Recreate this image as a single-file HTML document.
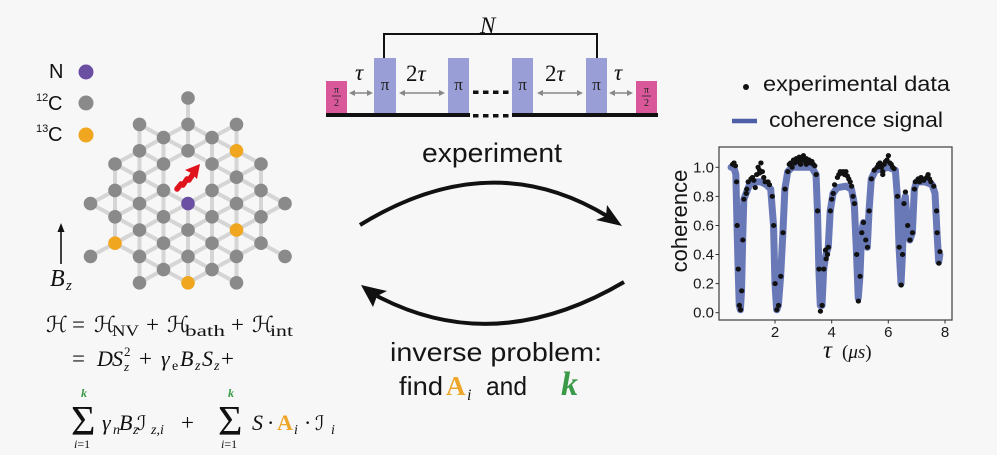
<!DOCTYPE html>
<html><head><meta charset="utf-8"><style>
html,body{margin:0;padding:0;background:#f7f7f7;}
svg{display:block;}
.sans{font-family:"Liberation Sans","DejaVu Sans",sans-serif;}
.serif{font-family:"Liberation Serif","DejaVu Serif",serif;}
.math{font-family:"DejaVu Serif","Liberation Serif",serif;}
</style></head><body>
<svg width="997" height="455" viewBox="0 0 997 455" xmlns="http://www.w3.org/2000/svg">
<rect x="0" y="0" width="997" height="455" fill="#f7f7f7"/>

<!-- ===== Legend left ===== -->
<text class="sans" x="49" y="78" font-size="20" fill="#111">N</text>
<circle cx="86" cy="72" r="7.5" fill="#6a4fa2"/>
<text class="sans" x="36" y="101" font-size="11" fill="#111">12</text>
<text class="sans" x="48" y="110" font-size="20" fill="#111">C</text>
<circle cx="86" cy="103" r="7.5" fill="#8a8a8a"/>
<text class="sans" x="36" y="132" font-size="11" fill="#111">13</text>
<text class="sans" x="48" y="141" font-size="20" fill="#111">C</text>
<circle cx="86" cy="135" r="7.5" fill="#f0a61e"/>

<!-- ===== Lattice bonds ===== -->
<path fill="none" stroke="#d5d5d5" stroke-width="4" stroke-linejoin="round" d="
M115 164V243.2 M139.5 124.4V282.8 M163.5 137.6V269.6 M188 98V150.8 M188 203.6V282.8 M212 137.6V269.6 M236.5 124.4V282.8 M261 164V243.2
M90.5 203.6L115 190.4 M90.5 203.6L115 216.8 M90.5 256.4L115 243.2
M139.5 150.8L115 164L139.5 177.2L115 190.4L139.5 203.6L115 216.8L139.5 230L115 243.2L139.5 256.4
M139.5 124.4L163.5 137.6L139.5 150.8L163.5 164L139.5 177.2L163.5 190.4L139.5 203.6L163.5 216.8L139.5 230L163.5 243.2L139.5 256.4L163.5 269.6L139.5 282.8
M188 124.4L163.5 137.6L188 150.8L163.5 164 M163.5 190.4L188 203.6L163.5 216.8L188 230L163.5 243.2L188 256.4L163.5 269.6L188 282.8
M188 124.4L212 137.6L188 150.8L212 164 M212 190.4L188 203.6L212 216.8L188 230L212 243.2L188 256.4L212 269.6L188 282.8
M236.5 124.4L212 137.6L236.5 150.8L212 164L236.5 177.2L212 190.4L236.5 203.6L212 216.8L236.5 230L212 243.2L236.5 256.4L212 269.6L236.5 282.8
M236.5 150.8L261 164L236.5 177.2L261 190.4L236.5 203.6L261 216.8L236.5 230L261 243.2L236.5 256.4
M261 190.4L285 203.6L261 216.8 M261 243.2L285 256.4"/>

<!-- ===== Lattice nodes ===== -->
<g fill="#8a8a8a">
<circle cx="90.5" cy="203.6" r="6.8"/><circle cx="90.5" cy="256.4" r="6.8"/>
<circle cx="115" cy="164" r="6.8"/><circle cx="115" cy="190.4" r="6.8"/><circle cx="115" cy="216.8" r="6.8"/>
<circle cx="139.5" cy="124.4" r="6.8"/><circle cx="139.5" cy="150.8" r="6.8"/><circle cx="139.5" cy="177.2" r="6.8"/><circle cx="139.5" cy="203.6" r="6.8"/><circle cx="139.5" cy="230" r="6.8"/><circle cx="139.5" cy="256.4" r="6.8"/><circle cx="139.5" cy="282.8" r="6.8"/>
<circle cx="163.5" cy="137.6" r="6.8"/><circle cx="163.5" cy="164" r="6.8"/><circle cx="163.5" cy="190.4" r="6.8"/><circle cx="163.5" cy="216.8" r="6.8"/><circle cx="163.5" cy="243.2" r="6.8"/><circle cx="163.5" cy="269.6" r="6.8"/>
<circle cx="188" cy="98" r="6.8"/><circle cx="188" cy="124.4" r="6.8"/><circle cx="188" cy="150.8" r="6.8"/><circle cx="188" cy="230" r="6.8"/><circle cx="188" cy="256.4" r="6.8"/>
<circle cx="212" cy="137.6" r="6.8"/><circle cx="212" cy="164" r="6.8"/><circle cx="212" cy="190.4" r="6.8"/><circle cx="212" cy="216.8" r="6.8"/><circle cx="212" cy="243.2" r="6.8"/><circle cx="212" cy="269.6" r="6.8"/>
<circle cx="236.5" cy="124.4" r="6.8"/><circle cx="236.5" cy="177.2" r="6.8"/><circle cx="236.5" cy="203.6" r="6.8"/><circle cx="236.5" cy="256.4" r="6.8"/><circle cx="236.5" cy="282.8" r="6.8"/>
<circle cx="261" cy="164" r="6.8"/><circle cx="261" cy="190.4" r="6.8"/><circle cx="261" cy="216.8" r="6.8"/><circle cx="261" cy="243.2" r="6.8"/>
<circle cx="285" cy="203.6" r="6.8"/><circle cx="285" cy="256.4" r="6.8"/>
</g>
<g fill="#f0a61e">
<circle cx="115" cy="243.2" r="6.8"/><circle cx="188" cy="282.8" r="6.8"/><circle cx="236.5" cy="150.8" r="6.8"/><circle cx="236.5" cy="230" r="6.8"/>
</g>
<circle cx="188" cy="203.6" r="6.8" fill="#6a4fa2"/>

<!-- red spin arrow -->
<path d="M177 189 L181 184 L183 185 L187 179 L189 180 L193 174" fill="none" stroke="#e0141c" stroke-width="5.5" stroke-linejoin="round" stroke-linecap="round"/>
<polygon points="200,164 197,179 191,173 185,170" fill="#e0141c"/>

<!-- Bz arrow -->
<line x1="61" y1="264" x2="61" y2="231" stroke="#111" stroke-width="1.6"/>
<polygon points="61,223 57.5,232 64.5,232" fill="#111"/>
<text class="serif" x="50" y="286" font-size="24" font-style="italic" fill="#111">B</text>
<text class="serif" x="66" y="290" font-size="15" font-style="italic" fill="#111">z</text>

<!-- ===== Formula ===== -->
<g fill="#111">
<!-- line 1 -->
<text class="math" x="46" y="332" font-size="22">ℋ</text>
<text class="serif" x="72" y="332" font-size="23">=</text>
<text class="math" x="94" y="332" font-size="22">ℋ</text>
<text class="serif" x="112" y="336" font-size="16" textLength="27" lengthAdjust="spacingAndGlyphs">NV</text>
<text class="serif" x="146" y="332" font-size="23">+</text>
<text class="math" x="167" y="332" font-size="22">ℋ</text>
<text class="serif" x="185" y="336" font-size="16" textLength="40" lengthAdjust="spacingAndGlyphs">bath</text>
<text class="serif" x="231" y="332" font-size="23">+</text>
<text class="math" x="252" y="332" font-size="22">ℋ</text>
<text class="serif" x="270" y="336" font-size="16" textLength="23" lengthAdjust="spacingAndGlyphs">int</text>
<!-- line 2 -->
<text class="serif" x="72" y="366" font-size="23">=</text>
<text class="serif" x="97" y="366" font-size="22" font-style="italic">D</text>
<text class="serif" x="112" y="366" font-size="22" font-style="italic">S</text>
<text class="serif" x="124" y="356" font-size="13">2</text>
<text class="serif" x="124" y="371" font-size="13" font-style="italic">z</text>
<text class="serif" x="139" y="366" font-size="23">+</text>
<text class="serif" x="161" y="366" font-size="22" font-style="italic">γ</text>
<text class="serif" x="172" y="370" font-size="14">e</text>
<text class="serif" x="180" y="366" font-size="22" font-style="italic">B</text>
<text class="serif" x="195" y="370" font-size="14" font-style="italic">z</text>
<text class="serif" x="202" y="366" font-size="22" font-style="italic">S</text>
<text class="serif" x="214" y="370" font-size="14" font-style="italic">z</text>
<text class="serif" x="221" y="366" font-size="23">+</text>
<!-- line 3 -->
<text class="serif" x="81" y="397" font-size="12" font-weight="bold" font-style="italic" fill="#3b9a48">k</text>
<text class="serif" x="71" y="435" font-size="42">Σ</text>
<text class="serif" x="74" y="448" font-size="12" font-style="italic">i<tspan font-style="normal">=1</tspan></text>
<text class="serif" x="102" y="430" font-size="22" font-style="italic">γ</text>
<text class="serif" x="113" y="434" font-size="14" font-style="italic">n</text>
<text class="serif" x="119" y="430" font-size="22" font-style="italic">B</text>
<text class="serif" x="133" y="434" font-size="14" font-style="italic">z</text>
<text class="math" x="137" y="430" font-size="20">ℐ</text>
<text class="serif" x="151" y="434" font-size="14" font-style="italic">z,i</text>
<text class="serif" x="181" y="430" font-size="23">+</text>
<text class="serif" x="228" y="397" font-size="12" font-weight="bold" font-style="italic" fill="#3b9a48">k</text>
<text class="serif" x="218" y="435" font-size="42">Σ</text>
<text class="serif" x="221" y="448" font-size="12" font-style="italic">i<tspan font-style="normal">=1</tspan></text>
<text class="serif" x="252" y="430" font-size="22" font-style="italic">S</text>
<text class="serif" x="267" y="430" font-size="22">·</text>
<text class="serif" x="277" y="430" font-size="22" font-weight="bold" fill="#eda628">A</text>
<text class="serif" x="294" y="434" font-size="14" font-style="italic">i</text>
<text class="serif" x="304" y="430" font-size="22">·</text>
<text class="math" x="315" y="430" font-size="20">ℐ</text>
<text class="serif" x="331" y="434" font-size="14" font-style="italic">i</text>
</g>

<!-- ===== Pulse sequence ===== -->
<text class="serif" x="480" y="33" font-size="23" font-style="italic" fill="#111">N</text>
<path d="M384 58V34H597V58" fill="none" stroke="#111" stroke-width="2"/>
<rect x="326" y="81" width="21" height="32" fill="#d9589a"/>
<rect x="636" y="81" width="21" height="32" fill="#d9589a"/>
<g class="serif" font-size="10" fill="#222" text-anchor="middle">
<text x="336.5" y="93">π</text><line x1="332" y1="96" x2="341" y2="96" stroke="#222" stroke-width="0.8"/><text x="336.5" y="106">2</text>
<text x="646.5" y="93">π</text><line x1="642" y1="96" x2="651" y2="96" stroke="#222" stroke-width="0.8"/><text x="646.5" y="106">2</text>
</g>
<g fill="#9a9ed6">
<rect x="374" y="58" width="22" height="55"/>
<rect x="448" y="58" width="21" height="55"/>
<rect x="512" y="58" width="21" height="55"/>
<rect x="586" y="58" width="21" height="55"/>
</g>
<g class="serif" font-size="17" fill="#222" text-anchor="middle">
<text x="385" y="90">π</text><text x="458.5" y="90">π</text><text x="522.5" y="90">π</text><text x="596.5" y="90">π</text>
</g>
<rect x="326" y="113" width="144" height="4" fill="#111"/>
<rect x="512" y="113" width="146" height="4" fill="#111"/>
<g fill="#111">
<rect x="473" y="90.5" width="5.5" height="3.5"/><rect x="483" y="90.5" width="5.5" height="3.5"/><rect x="493" y="90.5" width="5.5" height="3.5"/><rect x="503" y="90.5" width="5.5" height="3.5"/>
<rect x="473" y="114" width="5.5" height="3.5"/><rect x="483" y="114" width="5.5" height="3.5"/><rect x="493" y="114" width="5.5" height="3.5"/><rect x="503" y="114" width="5.5" height="3.5"/>
</g>
<g class="serif" font-size="23" font-style="italic" fill="#111">
<text x="355" y="80">τ</text>
<text x="406" y="81"><tspan font-style="normal">2</tspan>τ</text>
<text x="545" y="81"><tspan font-style="normal">2</tspan>τ</text>
<text x="614" y="80">τ</text>
</g>
<g stroke="#888" stroke-width="1.6" fill="#888">
<line x1="352" y1="93" x2="370" y2="93"/><polygon points="349,93 355,90 355,96" stroke="none"/><polygon points="373,93 367,90 367,96" stroke="none"/>
<line x1="402" y1="93" x2="442" y2="93"/><polygon points="399,93 405,90 405,96" stroke="none"/><polygon points="445,93 439,90 439,96" stroke="none"/>
<line x1="540" y1="93" x2="580" y2="93"/><polygon points="537,93 543,90 543,96" stroke="none"/><polygon points="583,93 577,90 577,96" stroke="none"/>
<line x1="612" y1="93" x2="630" y2="93"/><polygon points="609,93 615,90 615,96" stroke="none"/><polygon points="633,93 627,90 627,96" stroke="none"/>
</g>

<text class="sans" x="422" y="162" font-size="27" textLength="140" lengthAdjust="spacingAndGlyphs" fill="#151515">experiment</text>

<!-- ===== Cycle arrows ===== -->
<path d="M360 225 Q490 145 607 216" fill="none" stroke="#111" stroke-width="4"/>
<polygon points="622,226 607,205 606,216 596,220" fill="#111"/>
<path d="M624 282 Q495 358 377 296" fill="none" stroke="#111" stroke-width="4"/>
<polygon points="361,285 387,291 377,296 373,307" fill="#111"/>

<text class="sans" x="390" y="361" font-size="26" textLength="212" lengthAdjust="spacingAndGlyphs" fill="#151515">inverse problem:</text>
<text class="sans" x="399" y="395" font-size="26" textLength="44" lengthAdjust="spacingAndGlyphs" fill="#151515">find</text>
<text class="serif" x="446" y="395" font-size="27" font-weight="bold" fill="#eda628">A</text>
<text class="serif" x="467" y="400" font-size="16" font-style="italic" fill="#151515">i</text>
<text class="sans" x="486" y="395" font-size="26" textLength="41" lengthAdjust="spacingAndGlyphs" fill="#151515">and</text>
<text class="serif" x="561" y="395" font-size="34" font-weight="bold" font-style="italic" fill="#3b9a48">k</text>

<!-- ===== Plot legend ===== -->
<circle cx="746" cy="87" r="3" fill="#111"/>
<text class="sans" x="763" y="91" font-size="21" textLength="187" lengthAdjust="spacingAndGlyphs" fill="#151515">experimental data</text>
<line x1="732" y1="121" x2="757" y2="121" stroke="#4d5fa6" stroke-width="4.5"/>
<text class="sans" x="769" y="127" font-size="21" textLength="174" lengthAdjust="spacingAndGlyphs" fill="#151515">coherence signal</text>

<!-- ===== Plot ===== -->
<rect x="719" y="147" width="233" height="173" fill="#f9f9f9" stroke="#4a4a4a" stroke-width="1.3"/>
<g stroke="#333" stroke-width="1">
<line x1="715.5" y1="167.3" x2="719" y2="167.3"/><line x1="715.5" y1="196.4" x2="719" y2="196.4"/><line x1="715.5" y1="225.5" x2="719" y2="225.5"/><line x1="715.5" y1="254.5" x2="719" y2="254.5"/><line x1="715.5" y1="283.6" x2="719" y2="283.6"/><line x1="715.5" y1="312.7" x2="719" y2="312.7"/>
<line x1="775" y1="320" x2="775" y2="323.5"/><line x1="831.7" y1="320" x2="831.7" y2="323.5"/><line x1="888.3" y1="320" x2="888.3" y2="323.5"/><line x1="945" y1="320" x2="945" y2="323.5"/>
</g>
<g class="sans" font-size="15" fill="#1a1a1a" text-anchor="end">
<text x="714" y="172.5">1.0</text><text x="714" y="201.5">0.8</text><text x="714" y="230.5">0.6</text><text x="714" y="259.5">0.4</text><text x="714" y="288.5">0.2</text><text x="714" y="317.5">0.0</text>
</g>
<g class="sans" font-size="15" fill="#1a1a1a" text-anchor="middle">
<text x="775" y="337">2</text><text x="831.7" y="337">4</text><text x="888.3" y="337">6</text><text x="945" y="337">8</text>
</g>
<text class="sans" font-size="22" fill="#151515" text-anchor="middle" transform="translate(687 221) rotate(-90)">coherence</text>
<text class="serif" x="823" y="358" font-size="25" font-style="italic" fill="#151515">τ</text>
<text class="serif" x="842" y="358" font-size="19" fill="#151515">(<tspan font-style="italic">μs</tspan>)</text>

<g transform="translate(718.3 312.7) scale(28.33 -145.4)">
<polyline fill="none" stroke="#5062ab" stroke-opacity="0.85" stroke-width="7" stroke-linejoin="round" stroke-linecap="round" vector-effect="non-scaling-stroke" points="0.45,1 0.55,1 0.62,0.95 0.66,0.6 0.7,0.3 0.74,0.05 0.78,0.02 0.82,0.15 0.86,0.5 0.9,0.78 0.98,0.82 1.1,0.88 1.3,0.9 1.5,0.9 1.7,0.88 1.85,0.85 1.95,0.6 2,0.2 2.06,0.02 2.12,0.05 2.2,0.25 2.28,0.55 2.35,0.85 2.45,0.97 2.6,1 3,1 3.3,1 3.45,0.95 3.5,0.7 3.55,0.3 3.6,0.05 3.66,0.05 3.72,0.3 3.8,0.4 3.88,0.45 3.95,0.7 4.05,0.82 4.2,0.86 4.5,0.87 4.7,0.85 4.8,0.75 4.88,0.4 4.94,0.1 5,0.25 5.06,0.55 5.12,0.62 5.2,0.5 5.26,0.45 5.32,0.7 5.4,0.92 5.55,0.98 6,1 6.25,0.98 6.32,0.8 6.38,0.45 6.45,0.2 6.5,0.4 6.55,0.75 6.6,0.8 6.68,0.6 6.76,0.5 6.85,0.55 6.92,0.85 7,0.9 7.3,0.9 7.55,0.88 7.65,0.82 7.72,0.55 7.78,0.35 7.82,0.4"/>
<path fill="none" stroke="#111" stroke-width="5" stroke-linecap="round" vector-effect="non-scaling-stroke" d="
M0.5 1.02h0.01M0.55 1.03h0.01M0.6 1.01h0.01M0.64 0.9h0.01M0.66 0.6h0.01M0.7 0.3h0.01M0.74 0.05h0.01M0.78 0.02h0.01M0.82 0.15h0.01M0.86 0.5h0.01M0.9 0.78h0.01M0.98 0.82h0.01
M1 0.85h0.01M1.05 0.9h0.01M1.15 0.92h0.01M1.2 0.93h0.01M1.25 0.91h0.01M1.35 0.95h0.01M1.4 1h0.01M1.45 0.98h0.01M1.5 1.03h0.01M1.55 0.97h0.01M1.6 0.93h0.01M1.65 0.9h0.01M1.75 0.9h0.01M1.8 0.88h0.01M1.9 0.8h0.01M1.45 0.96h0.01M1.3 0.86h0.01
M1.95 0.6h0.01M2 0.2h0.01M2.06 0.02h0.01M2.12 0.05h0.01M2.2 0.25h0.01M2.28 0.55h0.01M2.35 0.85h0.01M2.45 0.97h0.01
M2.5 1.02h0.01M2.55 1.03h0.01M2.65 1.05h0.01M2.7 1.03h0.01M2.75 1.06h0.01M2.8 1.04h0.01M2.85 1.07h0.01M2.9 1.05h0.01M2.95 1.06h0.01M3 1.08h0.01M3.05 1.04h0.01M3.1 1.06h0.01M3.15 1.03h0.01M3.2 1.05h0.01M3.25 1.03h0.01M3.3 1.04h0.01M3.35 1.02h0.01M3.4 1.01h0.01M2.6 1h0.01M2.9 1.02h0.01M3.1 1.02h0.01
M3.45 0.95h0.01M3.5 0.7h0.01M3.55 0.3h0.01M3.6 0.01h0.01M3.66 0.05h0.01M3.72 0.3h0.01M3.78 0.43h0.01M3.8 0.37h0.01M3.85 0.4h0.01M3.88 0.45h0.01M3.95 0.7h0.01M4.05 0.82h0.01
M4 0.78h0.01M4.1 0.88h0.01M4.2 0.93h0.01M4.25 0.95h0.01M4.3 0.97h0.01M4.35 0.96h0.01M4.4 0.97h0.01M4.45 0.95h0.01M4.5 0.97h0.01M4.55 0.94h0.01M4.6 0.92h0.01M4.65 0.9h0.01M4.7 0.87h0.01M4.75 0.8h0.01
M4.8 0.75h0.01M4.88 0.4h0.01M4.94 0.08h0.01M5 0.25h0.01M5.06 0.55h0.01M5.12 0.62h0.01M5.2 0.5h0.01M5.26 0.45h0.01M5.32 0.7h0.01M5.4 0.92h0.01
M5.5 0.98h0.01M5.6 1h0.01M5.65 1.02h0.01M5.7 1.03h0.01M5.75 1h0.01M5.8 0.97h0.01M5.85 1.02h0.01M5.9 1.04h0.01M5.95 1.05h0.01M6 1.08h0.01M6.05 1.03h0.01M6.1 1.02h0.01M6.15 1h0.01M6.2 0.99h0.01M5.8 0.95h0.01
M6.32 0.8h0.01M6.38 0.45h0.01M6.45 0.19h0.01M6.5 0.4h0.01M6.55 0.75h0.01M6.6 0.83h0.01M6.68 0.6h0.01M6.76 0.5h0.01M6.85 0.55h0.01M6.92 0.85h0.01
M6.95 0.9h0.01M7.05 0.92h0.01M7.1 0.9h0.01M7.15 0.93h0.01M7.2 0.92h0.01M7.25 0.91h0.01M7.35 0.93h0.01M7.4 0.95h0.01M7.45 0.92h0.01M7.5 0.9h0.01M7.6 0.87h0.01M7.7 0.7h0.01
M7.72 0.55h0.01M7.78 0.34h0.01M7.82 0.42h0.01"/>
</g>
</svg>
</body></html>
